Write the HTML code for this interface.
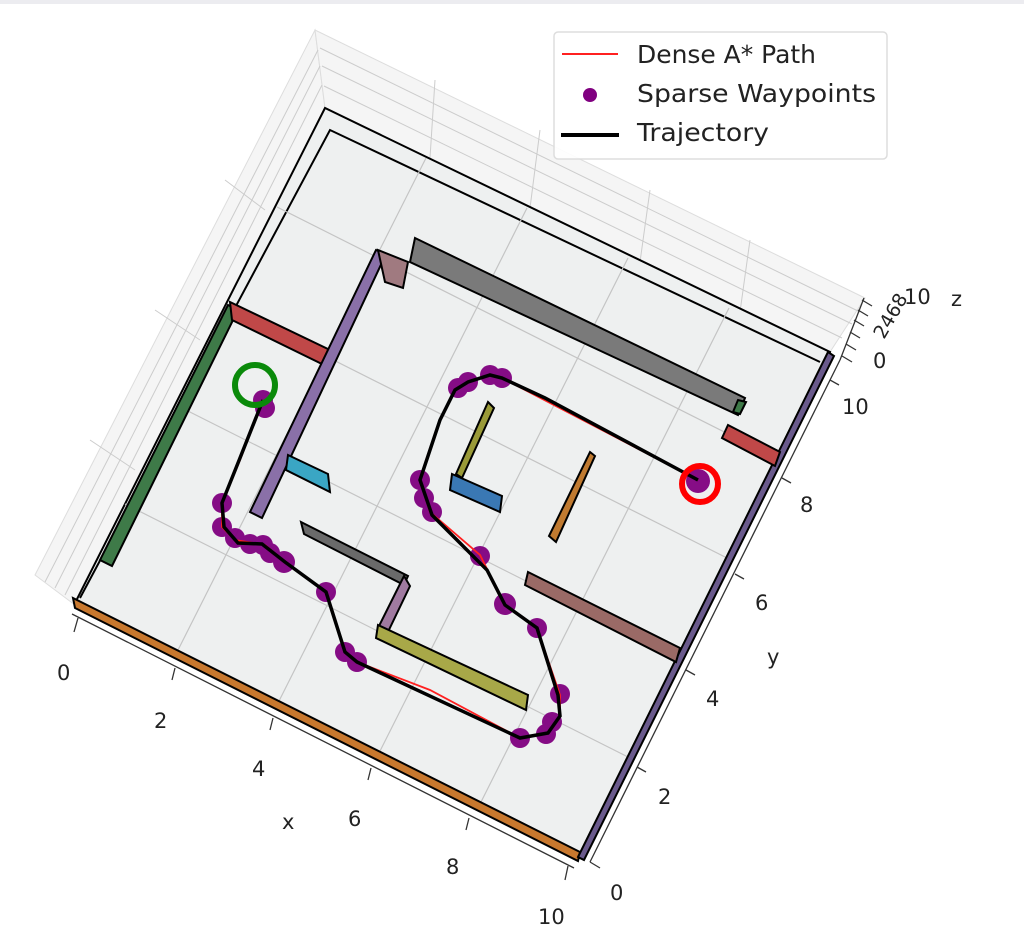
<!DOCTYPE html>
<html><head><meta charset="utf-8"><style>body{margin:0;background:#fff}svg{display:block}text{font-family:"DejaVu Sans","Liberation Sans",sans-serif;fill:#222}</style></head><body>
<svg width="1024" height="947" viewBox="0 0 1024 947" xmlns="http://www.w3.org/2000/svg">
<rect x="0" y="0" width="1024" height="4" fill="#ececf0"/>
<polygon points="75,605 35,575 315,30 325,108" fill="#f5f5f5" stroke="#ddd"/>
<polygon points="325,108 315,30 865,298 830,352" fill="#f5f5f5" stroke="#ddd"/>
<g stroke="#ccc" stroke-width="1" fill="none">
<path d="M45,582 L318,50 M55,588 L320,66 M65,595 L322,85"/>
<path d="M320,48 L860,312 M322,66 L852,324 M324,86 L842,338"/>
<path d="M135,470 L90,440 M200,340 L155,310 M265,210 L225,180 M430,158 L435,80 M530,208 L540,130 M640,262 L650,190 M740,312 L750,240"/>
</g>
<polygon points="75,603 580,857 830,352 325,108" fill="#eef0f0" stroke="#000" stroke-width="2"/>
<polyline points="80,598 330,130 820,362" fill="none" stroke="#000" stroke-width="2"/>
<g stroke="#c4c4c4" stroke-width="1.2">
<line x1="176" y1="654" x2="426" y2="158"/><line x1="277" y1="705" x2="527" y2="208"/>
<line x1="378" y1="755" x2="628" y2="258"/><line x1="479" y1="806" x2="729" y2="308"/>
<line x1="125" y1="504" x2="630" y2="758"/><line x1="176" y1="405" x2="681" y2="659"/>
<line x1="226" y1="306" x2="731" y2="560"/><line x1="277" y1="207" x2="782" y2="461"/>
</g>
<g stroke="#000" stroke-width="2">
<polygon points="73,598 580,852 578,861 75,608" fill="#c8782e"/>
<polygon points="578,857 828,352 834,356 584,860" fill="#6a5a8c"/>
<polygon points="228,305 238,310 112,566 100,560" fill="#3e7a48"/>
<polygon points="230,302 330,350 324,365 232,320" fill="#c04848"/>
<polygon points="376,250 386,254 262,518 250,512" fill="#8a70a8"/>
<polygon points="378,250 408,262 403,288 385,282" fill="#a07a80"/>
<polygon points="415,238 745,398 738,415 410,262" fill="#7a7a7a"/>
<polygon points="738,400 746,402 740,414 733,412" fill="#3e7a48"/>
<polygon points="728,425 780,452 775,466 722,438" fill="#c04848"/>
<polygon points="288,455 328,474 330,492 286,470" fill="#3aa6c4"/>
<polygon points="488,402 494,408 462,478 456,474" fill="#9a9a38"/>
<polygon points="452,474 502,496 500,512 450,490" fill="#3a78b4"/>
<polygon points="590,452 595,456 556,542 549,536" fill="#c07a30"/>
<polygon points="301,522 408,576 404,585 304,534" fill="#6a6a6a"/>
<polygon points="404,576 410,586 386,636 378,628" fill="#a07aa0"/>
<polygon points="378,625 528,695 526,710 376,638" fill="#a8a848"/>
<polygon points="528,572 680,648 676,662 525,585" fill="#9a6a66"/>
</g>
<g fill="#800080" opacity="0.95">
<circle cx="263" cy="400" r="10"/><circle cx="265" cy="408" r="10"/><circle cx="222" cy="503" r="10"/><circle cx="222" cy="527" r="10"/>
<circle cx="235" cy="538" r="10"/><circle cx="250" cy="544" r="10"/><circle cx="263" cy="545" r="10"/><circle cx="270" cy="553" r="10"/>
<circle cx="284" cy="562" r="11"/><circle cx="326" cy="592" r="10"/><circle cx="345" cy="652" r="10"/><circle cx="357" cy="662" r="10"/>
<circle cx="520" cy="738" r="10"/><circle cx="546" cy="734" r="10"/><circle cx="552" cy="722" r="10"/><circle cx="560" cy="694" r="10"/>
<circle cx="537" cy="628" r="10"/><circle cx="505" cy="604" r="11"/><circle cx="480" cy="556" r="10"/><circle cx="432" cy="512" r="10"/>
<circle cx="424" cy="498" r="10"/><circle cx="420" cy="480" r="10"/><circle cx="458" cy="388" r="10"/><circle cx="468" cy="382" r="10"/>
<circle cx="490" cy="375" r="10"/><circle cx="502" cy="378" r="10"/><circle cx="698" cy="481" r="12"/>
</g>
<polyline points="263,400 240,460 222,503 222,527 235,540 265,545 285,562 326,592 345,652 357,662 430,690 520,738 548,733 560,716 560,695 537,628 505,605 480,555 430,512 420,480 440,420 455,390 468,382 490,375 502,378 698,480" fill="none" stroke="#ff2020" stroke-width="1.8"/>
<polyline points="263,400 240,458 222,503 224,527 238,543 262,544 285,562 326,592 345,652 357,662 520,738 548,733 560,716 558,695 537,628 505,605 487,570 432,515 420,480 440,420 455,390 468,382 490,375 502,378 545,398 698,480" fill="none" stroke="#000" stroke-width="3.5"/>
<circle cx="255" cy="385" r="20" fill="none" stroke="#0a8a0a" stroke-width="6"/>
<circle cx="700" cy="484" r="18" fill="none" stroke="#ff0000" stroke-width="6"/>
<g stroke="#333" stroke-width="1.3">
<line x1="72" y1="614" x2="574" y2="868"/>
<line x1="590" y1="862" x2="840" y2="360"/>
<line x1="78" y1="618" x2="74" y2="632"/><line x1="175" y1="668" x2="172" y2="680"/><line x1="273" y1="718" x2="270" y2="730"/>
<line x1="371" y1="768" x2="368" y2="780"/><line x1="469" y1="818" x2="466" y2="830"/><line x1="568" y1="866" x2="565" y2="880"/>
<line x1="590" y1="862" x2="600" y2="868"/><line x1="637" y1="767" x2="646" y2="772"/><line x1="686" y1="670" x2="695" y2="675"/>
<line x1="735" y1="574" x2="744" y2="579"/><line x1="782" y1="478" x2="791" y2="483"/><line x1="830" y1="380" x2="839" y2="385"/>
<line x1="840" y1="360" x2="864" y2="298"/>
<line x1="842" y1="356" x2="852" y2="362"/><line x1="846" y1="344" x2="856" y2="350"/><line x1="850" y1="332" x2="860" y2="338"/><line x1="854" y1="320" x2="864" y2="326"/><line x1="858" y1="310" x2="868" y2="316"/><line x1="862" y1="300" x2="872" y2="306"/>
</g>
<g font-size="21">
<text x="57" y="680">0</text><text x="154" y="728">2</text><text x="252" y="776">4</text><text x="348" y="826">6</text><text x="446" y="874">8</text><text x="538" y="924">10</text>
<text x="282" y="829">x</text>
<text x="610" y="900">0</text><text x="658" y="804">2</text><text x="706" y="706">4</text><text x="755" y="610">6</text><text x="800" y="512">8</text><text x="842" y="414">10</text>
<text x="767" y="664">y</text>
<text x="904" y="304">10</text><text x="951" y="306">z</text>
<text x="873" y="368">0</text>
<text x="884" y="340" transform="rotate(-60 884 340)" font-size="19">2468</text>
</g>
<rect x="554" y="32" width="333" height="127" rx="4" fill="#fff" fill-opacity="0.9" stroke="#ddd" stroke-width="1.5"/>
<line x1="562" y1="54" x2="618" y2="54" stroke="#ff2020" stroke-width="2"/>
<circle cx="590" cy="95" r="7" fill="#800080"/>
<line x1="561" y1="135" x2="619" y2="135" stroke="#000" stroke-width="4"/>
<g font-size="25"><text x="637" y="63" textLength="179" lengthAdjust="spacingAndGlyphs">Dense A* Path</text><text x="637" y="102" textLength="239" lengthAdjust="spacingAndGlyphs">Sparse Waypoints</text><text x="637" y="141" textLength="132" lengthAdjust="spacingAndGlyphs">Trajectory</text></g>
</svg>
</body></html>
